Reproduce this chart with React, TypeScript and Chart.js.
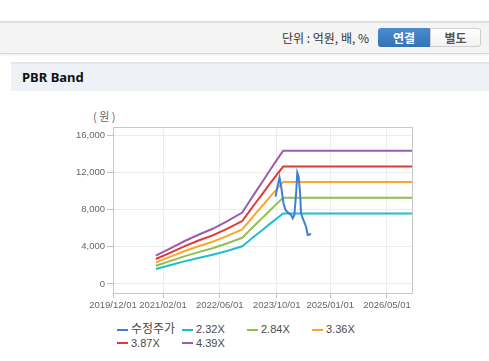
import React, { useEffect, useRef } from 'react';
import { Chart, registerables } from 'chart.js';

Chart.register(...registerables);

// ---- axis settings ----
const xTickLabels = ['2019/12/01', '2021/02/01', '2022/06/01', '2023/10/01', '2025/01/01', '2026/05/01'];
const xMinDate = '2019/12/01';
const xMaxDate = '2026/12/01';
const yTickValues = [0, 4000, 8000, 12000, 16000];
const yMin = -970;
const yMax = 16860;

// ---- band series ----
const bandDates = [
  '2020/12/01', '2021/04/01', '2021/08/01', '2021/12/01', '2022/04/01', '2022/08/01',
  '2022/12/10', '2023/02/01', '2023/04/01', '2023/06/01', '2023/08/01', '2023/10/01',
  '2023/11/25', '2026/12/01',
];
const band232 = [1605, 2007, 2424, 2796, 3132, 3550, 4051, 4594, 5197, 5800, 6426, 7030, 7563, 7563];
const band284 = [1965, 2457, 2968, 3422, 3834, 4345, 4959, 5623, 6362, 7100, 7867, 8605, 9258, 9258];
const band336 = [2325, 2906, 3511, 4049, 4536, 5141, 5867, 6653, 7526, 8400, 9307, 10181, 10954, 10954];
const band387 = [2678, 3348, 4044, 4663, 5225, 5921, 6757, 7663, 8669, 9675, 10720, 11726, 12616, 12616];
const band439 = [3038, 3797, 4588, 5290, 5927, 6717, 7665, 8692, 9834, 10975, 12160, 13302, 14311, 14311];

// ---- adjusted price ----
const priceDates = [
  '2023/09/21', '2023/10/05', '2023/10/25', '2023/11/08', '2023/11/28', '2023/12/15',
  '2024/01/03', '2024/02/01', '2024/02/15', '2024/02/29', '2024/03/15', '2024/03/25',
  '2024/04/06', '2024/04/18', '2024/04/26', '2024/05/10', '2024/06/08', '2024/06/22',
  '2024/07/21',
];
const priceValues = [
  9380, 10300, 11420, 10450, 8670, 7950, 7700, 7410, 7060, 7400, 9740, 11960,
  11500, 9740, 7590, 7060, 6150, 5260, 5370,
];

const seriesNames = ['수정주가', '2.32X', '2.84X', '3.36X', '3.87X', '4.39X'];
const seriesColors = ['#3d7fd6', '#1fbdd2', '#8cc152', '#f9a62b', '#dd3a34', '#9b5bb0'];

const toTs = (s: string) => {
  const [y, m, d] = s.split('/').map(Number);
  return Date.UTC(y, m - 1, d);
};

const borderPlugin = {
  id: 'plotBorder',
  beforeDatasetsDraw(chart: any) {
    const { ctx, chartArea } = chart;
    ctx.save();
    ctx.strokeStyle = '#c8c8c8';
    ctx.lineWidth = 1;
    ctx.strokeRect(
      Math.round(chartArea.left) + 0.5,
      Math.round(chartArea.top) + 0.5,
      Math.round(chartArea.right - chartArea.left),
      Math.round(chartArea.bottom - chartArea.top)
    );
    ctx.restore();
  },
};

function PbrChart() {
  const ref = useRef<HTMLCanvasElement | null>(null);
  useEffect(() => {
    if (!ref.current) return;
    const bands = [band232, band284, band336, band387, band439];
    const datasets: any[] = [
      {
        label: seriesNames[0],
        data: priceDates.map((d, i) => ({ x: toTs(d), y: priceValues[i] })),
        borderColor: seriesColors[0],
        backgroundColor: seriesColors[0],
        borderWidth: 2,
        pointRadius: 0,
        tension: 0,
      },
      ...bands.map((b, k) => ({
        label: seriesNames[k + 1],
        data: bandDates.map((d, i) => ({ x: toTs(d), y: b[i] })),
        borderColor: seriesColors[k + 1],
        backgroundColor: seriesColors[k + 1],
        borderWidth: 2,
        pointRadius: 0,
        tension: 0,
      })),
    ];
    const xTickValues = xTickLabels.map(toTs);
    const tickFont = { family: '"Liberation Sans", Arial, sans-serif', size: 9.5 };
    const chart = new Chart(ref.current, {
      type: 'line',
      data: { datasets },
      options: {
        responsive: false,
        animation: false,
        layout: { padding: { top: 9, right: 13, bottom: 0, left: 0 } },
        plugins: { legend: { display: false }, tooltip: { enabled: false } },
        scales: {
          x: {
            type: 'linear',
            min: toTs(xMinDate),
            max: toTs(xMaxDate),
            afterBuildTicks: (s: any) => {
              s.ticks = xTickValues.map((v) => ({ value: v }));
            },
            afterFit: (s: any) => {
              s.height = 27;
            },
            ticks: {
              autoSkip: false,
              maxRotation: 0,
              padding: 2,
              color: '#666',
              font: tickFont,
              callback: (_v: any, i: number) => xTickLabels[i],
            },
            grid: { color: '#ececec', tickColor: '#c0c0c0', tickLength: 5 },
            border: { color: '#c0c0c0' },
          },
          y: {
            type: 'linear',
            min: yMin,
            max: yMax,
            afterBuildTicks: (s: any) => {
              s.ticks = yTickValues.map((v) => ({ value: v }));
            },
            afterFit: (s: any) => {
              s.width = 73;
            },
            ticks: {
              padding: 2,
              color: '#666',
              font: tickFont,
              callback: (v: any) => Number(v).toLocaleString('en-US'),
            },
            grid: { color: '#ececec', tickColor: '#c0c0c0', tickLength: 6 },
            border: { color: '#c0c0c0' },
          },
        },
      } as any,
      plugins: [borderPlugin],
    });
    return () => chart.destroy();
  }, []);
  return (
    <canvas
      ref={ref}
      width={385}
      height={202}
      style={{ position: 'absolute', left: 40, top: 118, width: 385, height: 202 }}
    />
  );
}

export default function App() {
  const cjk = '"Liberation Sans", "Noto Sans CJK KR", sans-serif';
  return (
    <div
      style={{
        position: 'absolute',
        left: 0,
        top: 0,
        width: 489,
        height: 361,
        background: '#fff',
        overflow: 'hidden',
        fontFamily: cjk,
      }}
    >
      {/* unit bar */}
      <div
        style={{
          position: 'absolute',
          left: 0,
          top: 21,
          width: 489,
          height: 30,
          background: '#f4f4f4',
          borderTop: '2px solid #dedede',
          borderBottom: '1px solid #d8d8d8',
          boxShadow: '0 1px 2px rgba(0,0,0,0.08)',
        }}
      />
      <div
        style={{
          position: 'absolute',
          left: 282,
          top: 29,
          fontSize: 12,
          lineHeight: '17px',
          color: '#333',
          fontFamily: '"Noto Sans CJK KR", sans-serif',
          whiteSpace: 'nowrap',
        }}
      >
        단위 : 억원, 배, %
      </div>
      <div
        style={{
          position: 'absolute',
          left: 378,
          top: 28,
          width: 52,
          height: 19,
          background: 'linear-gradient(#4a8bcf, #3572b5)',
          borderRadius: '3px 0 0 3px',
          color: '#fff',
          fontWeight: 'bold',
          fontSize: 12,
          lineHeight: '19px',
          textAlign: 'center',
          fontFamily: '"Noto Sans CJK KR", sans-serif',
        }}
      >
        연결
      </div>
      <div
        style={{
          position: 'absolute',
          left: 430,
          top: 28,
          width: 49,
          height: 17,
          background: 'linear-gradient(#ffffff, #f2f2f2)',
          border: '1px solid #cfcfcf',
          borderRadius: '0 3px 3px 0',
          color: '#555',
          fontWeight: 'bold',
          fontSize: 12,
          lineHeight: '17px',
          textAlign: 'center',
          fontFamily: '"Noto Sans CJK KR", sans-serif',
        }}
      >
        별도
      </div>

      {/* title bar */}
      <div
        style={{
          position: 'absolute',
          left: 11,
          top: 62,
          width: 478,
          height: 27,
          background: '#eef2f7',
          borderTop: '2px solid #e2e6eb',
        }}
      />
      <div
        style={{
          position: 'absolute',
          left: 22,
          top: 68,
          fontSize: 13,
          lineHeight: '18px',
          fontWeight: 'bold',
          color: '#111',
          fontFamily: '"Noto Sans", sans-serif',
        }}
      >
        PBR Band
      </div>

      {/* unit label */}
      <div
        style={{
          position: 'absolute',
          left: 93,
          top: 109,
          fontSize: 11,
          lineHeight: '15px',
          letterSpacing: '2.5px',
          color: '#666',
          fontFamily: '"Noto Sans CJK KR", sans-serif',
        }}
      >
        (원)
      </div>

      <PbrChart />

      {/* legend */}
      <div
        style={{
          position: 'absolute',
          left: 117,
          top: 323,
          display: 'grid',
          gridTemplateColumns: 'repeat(4, 65px)',
          gridAutoRows: '13.5px',
        }}
      >
        {seriesNames.map((n, i) => (
          <div key={n} style={{ display: 'flex', alignItems: 'center', whiteSpace: 'nowrap' }}>
            <span
              style={{
                display: 'inline-block',
                width: 11,
                height: 2,
                background: seriesColors[i],
                marginRight: 3,
              }}
            />
            <span
              style={{
                fontSize: i === 0 ? 12 : 11,
                color: '#4a4a4a',
                lineHeight: '13px',
              }}
            >
              {n}
            </span>
          </div>
        ))}
      </div>
    </div>
  );
}
